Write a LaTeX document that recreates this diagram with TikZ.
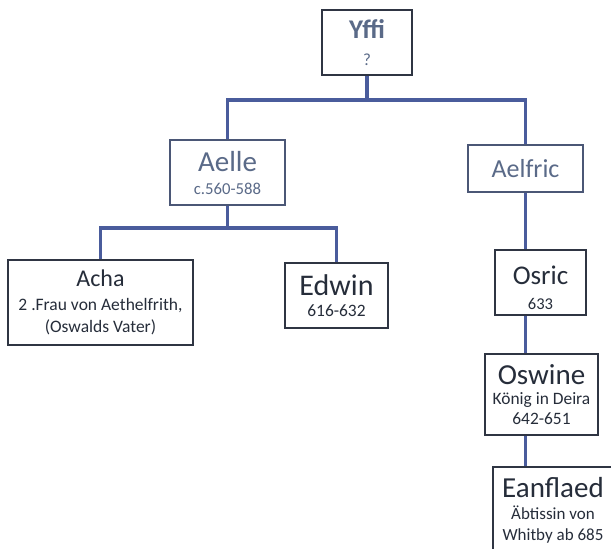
\documentclass[tikz,border=0pt]{standalone}
\usepackage{fontspec}
\setmainfont{Carlito}
\usepackage{tikz}
\usetikzlibrary{ positioning }
\definecolor{boxline}{HTML}{2F3543}
\definecolor{boxpale}{HTML}{4B5776}
\definecolor{linkblue}{HTML}{4A5C9C}
\definecolor{inkdark}{HTML}{262D3A}
\definecolor{inkpale}{HTML}{5A6A88}
\newcommand{\fs}[2]{\fontsize{#1}{#2}\selectfont}% font size and line gap, in px
\tikzset{
x=1pt, y=-1pt, % one unit is one pixel of the page
person/.style={draw=boxline, line width=1.8pt, fill=white, align=center,
  inner sep=1pt, text=inkdark}, % every box
pale/.style={draw=boxpale, text=inkpale}, % the two lighter boxes
link/.style={draw=linkblue, line width=3.2pt}, % the lines between the boxes
}

\begin{document}
\begin{tikzpicture}
  \useasboundingbox[fill=white] (0,0) rectangle (611,549);
  % boxes
  \node[person, minimum width=90, minimum height=65, font=\fs{17}{27}] (yffi) at (367,42.5)
    {{\fs{27}{30}\bfseries\color{inkpale}Yffi}\\{\color{inkpale}?}};
  \node[person, pale, minimum width=115, minimum height=65, font=\fs{16.7}{23}] (aelle) at (227.5,172.5)
    {{\fs{29}{30}Aelle}\\c.560-588};
  \node[person, pale, minimum width=115, minimum height=47] (aelfric) at (525.5,168.5)
    {{\fs{26}{30}Aelfric}};
  \node[person, minimum width=185, minimum height=85, font=\fs{17.5}{22}] (acha) at (100.5,302.5)
    {{\fs{24}{28}Acha}\\[2pt]2 .Frau von Aethelfrith,\\(Oswalds Vater)};
  \node[person, minimum width=103, minimum height=65, font=\fs{17.4}{21}] (edwin) at (336.5,295.5)
    {{\fs{30}{32}Edwin}\\616-632};
  \node[person, minimum width=91, minimum height=65, font=\fs{16.5}{25}] (osric) at (540.5,282.5)
    {\rule{0pt}{30pt}{\fs{27}{30}Osric}\\633};
  \node[person, minimum width=113, minimum height=81, font=\fs{17.4}{20}] (oswine) at (541.5,394.5)
    {{\fs{29}{30}Oswine}\\König in Deira\\642-651};
  \node[person, minimum width=120, minimum height=86, font=\fs{17}{21}] (eanflaed) at (553,510)
    {{\fs{29}{30}Eanflaed}\\[1pt]Äbtissin von\\Whitby ab 685};

  % junctions of the tree
  \coordinate (j1) at (yffi.south |- 0,100);
  \coordinate (j2) at (aelle.south |- 0,228);

  \draw[link] (yffi.south) -- (j1);
  \draw[link] (aelle.north) |- (j1) -| (aelfric.north);
  \draw[link] (aelle.south) -- (j2);
  \draw[link] (acha.north) |- (j2) -| (edwin.north);
  \draw[link] (aelfric.south) -- (aelfric.south |- osric.north);
  \draw[link] (osric.south -| aelfric.south) -- (oswine.north -| aelfric.south);
  \draw[link] (oswine.south -| aelfric.south) -- (eanflaed.north -| aelfric.south);
\end{tikzpicture}
\end{document}
